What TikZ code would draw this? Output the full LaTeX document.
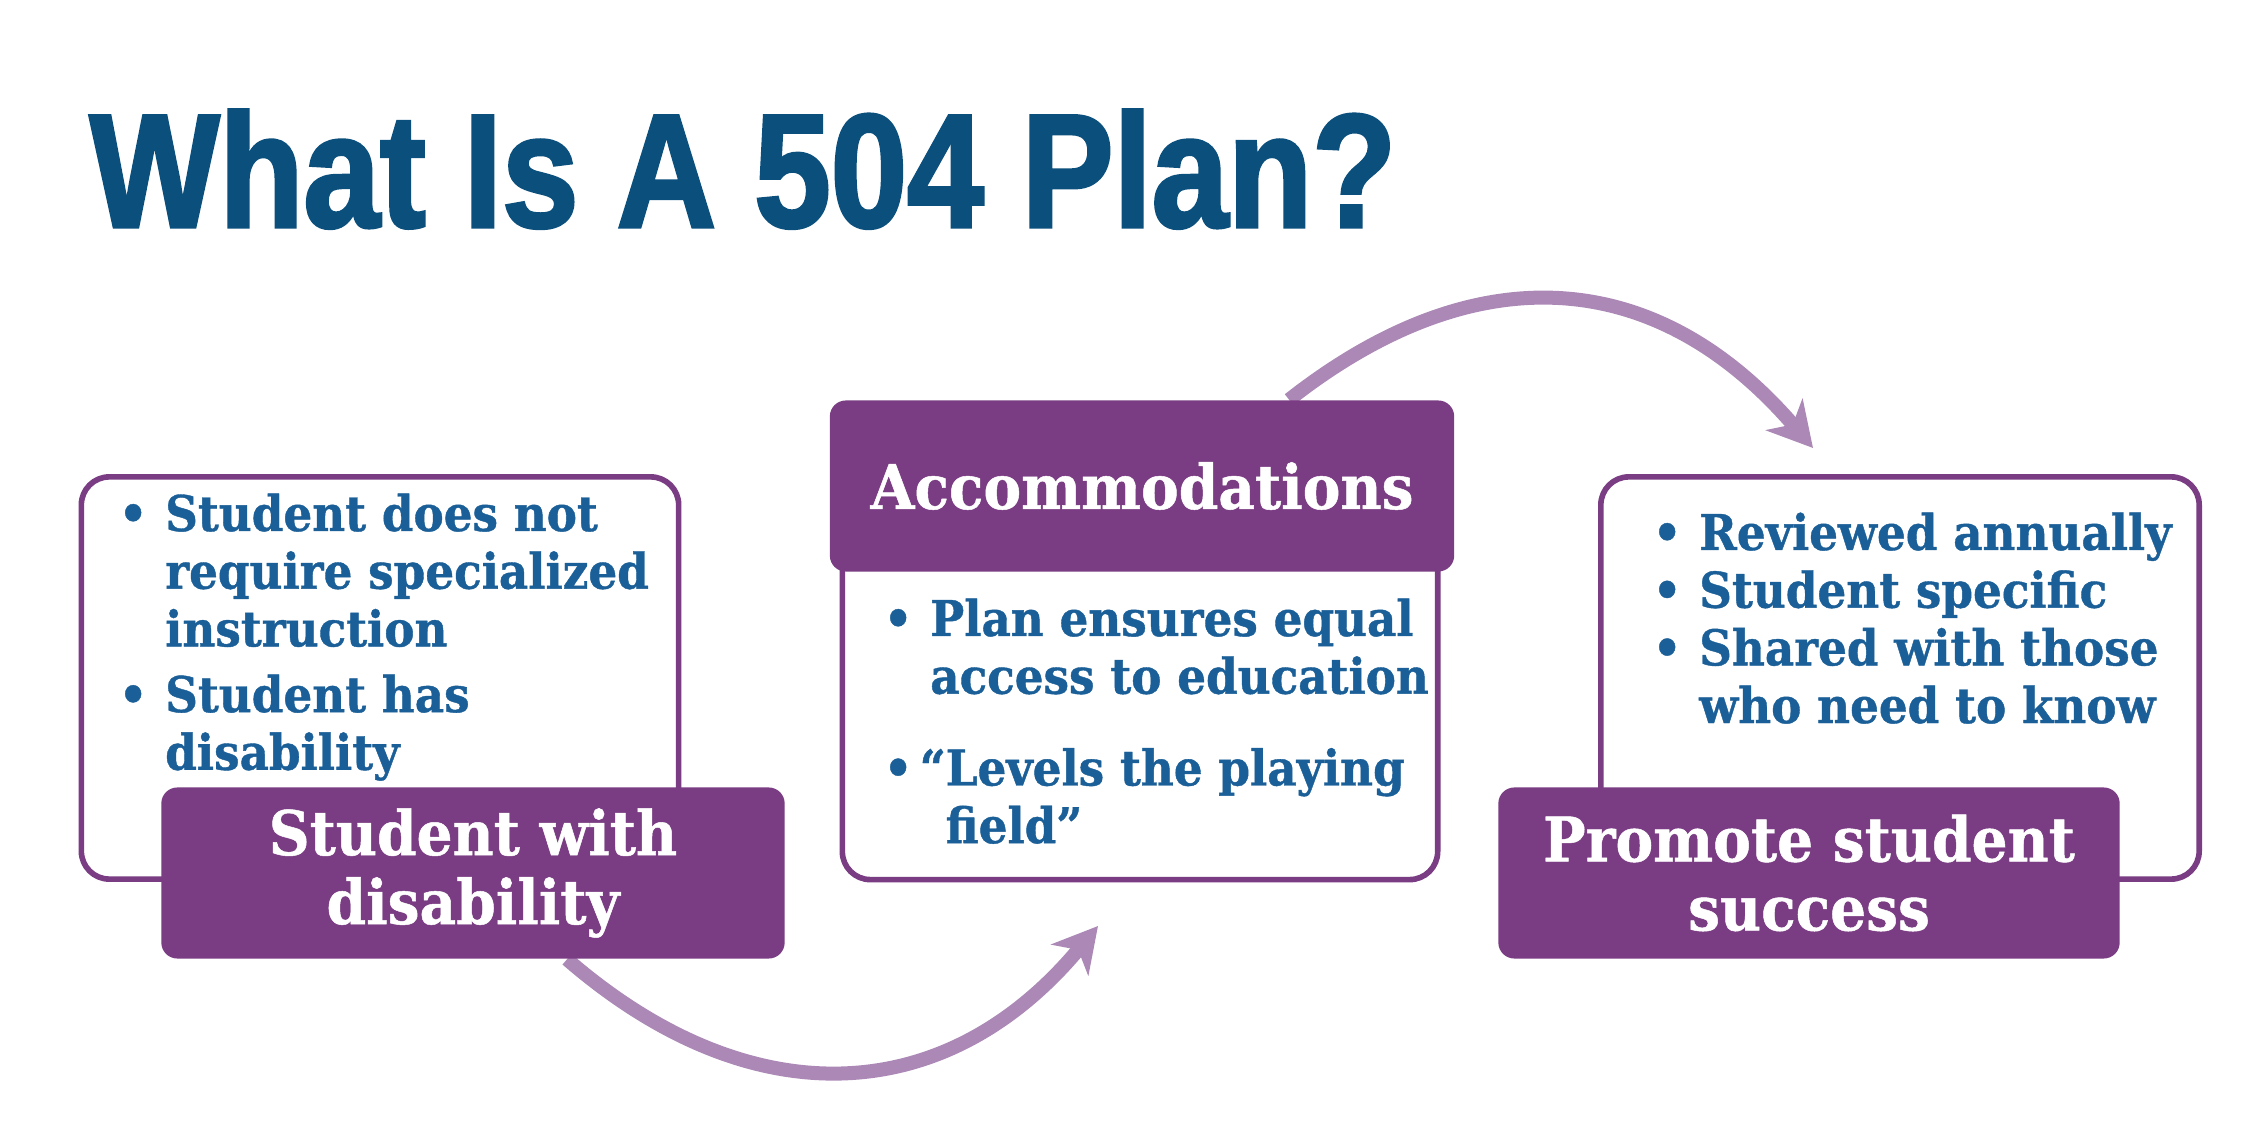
\documentclass[tikz,border=0pt]{standalone}
\usepackage{fontspec}
\setmainfont{DejaVu Serif}[FakeStretch=0.92, FakeBold=0.8]
\newfontfamily\titlefont{Liberation Sans}[FakeStretch=0.85, FakeBold=2]
\usepackage{tikz}
\usetikzlibrary{arrows.meta,positioning,backgrounds}
\definecolor{titleblue}{HTML}{0B4F7C}
\definecolor{textblue}{HTML}{1A5F97}
\definecolor{planpurple}{HTML}{7A3C82}
\definecolor{arrowlilac}{HTML}{AB88B5}
\tikzset{
  wbox/.style={draw=planpurple, line width=1.6pt, fill=white, rounded corners=0.28cm, minimum height=4.02cm, minimum width=5.97cm},
  plabel/.style={fill=planpurple, rounded corners=0.16cm, minimum height=1.71cm, minimum width=6.23cm, align=center, text=white, font=\fontsize{17.5}{19.6}\selectfont\bfseries},
  blist/.style={anchor=base west, inner sep=0pt, text=textblue, font=\fontsize{14}{16.4}\selectfont\bfseries},
  parr/.style={-{Stealth[length=0.44cm, width=0.48cm, inset=0.13cm]}, line width=0.14cm, draw=arrowlilac}
}

\begin{document}
\begin{tikzpicture}[x=0.01cm, y=-0.01cm]
\useasboundingbox (0,0) rectangle (2251,1146);
\node[anchor=base west, inner sep=0pt, text=titleblue, font=\titlefont\bfseries\fontsize{46}{50}\selectfont] (title) at (89,227) {What Is A 504 Plan?};

% white boxes
\node[wbox] (box1) at (380,678) {};
\node[wbox, minimum height=3.49cm, minimum width=5.95cm] (box2) at (1140,705) {};
\node[wbox, minimum width=5.98cm] (box3) at (1900,678) {};

% purple labels
\node[plabel] (lbl1) at (473,873) {Student with\\disability};
\node[plabel, minimum width=6.24cm] (hdr2) at (1142,486) {Accommodations};
\node[plabel, minimum width=6.21cm] (lbl3) at (1809,873) {Promote student\\success};

% bullet lists
\node[blist] (list1) at (118,531) {\begin{tabular}[t]{@{}l@{\hspace{5pt}}l@{}}
\textbullet & Student does not\\
 & require specialized\\
 & instruction\\[2.3pt]
\textbullet & Student has\\
 & disability
\end{tabular}};
\node[blist] (list2) at (883,636) {\begin{tabular}[t]{@{}l@{\hspace{5pt}}l@{}}
\textbullet & Plan ensures equal\\
 & access to education\\[9.7pt]
\textbullet & \hspace{-3pt}“Levels the playing\\
 & \hspace{-3pt}\phantom{“}field”
\end{tabular}};
\node[blist] (list3) at (1652,550) {\begin{tabular}[t]{@{}l@{\hspace{5pt}}l@{}}
\textbullet & Reviewed annually\\
\textbullet & Student specific\\
\textbullet & Shared with those\\
 & who need to know
\end{tabular}};

% arrows
\coordinate (tip1) at (1098,926);
\coordinate (tip2) at (1813,448);
\begin{scope}[on background layer]
\draw[parr] ([xshift=0.94cm]lbl1.south) .. controls (748,1116) and (944,1111) .. (tip1);
\draw[parr] ([xshift=1.47cm]hdr2.north) .. controls (1480,250) and (1660,270) .. (tip2);
\end{scope}
\end{tikzpicture}
\end{document}
